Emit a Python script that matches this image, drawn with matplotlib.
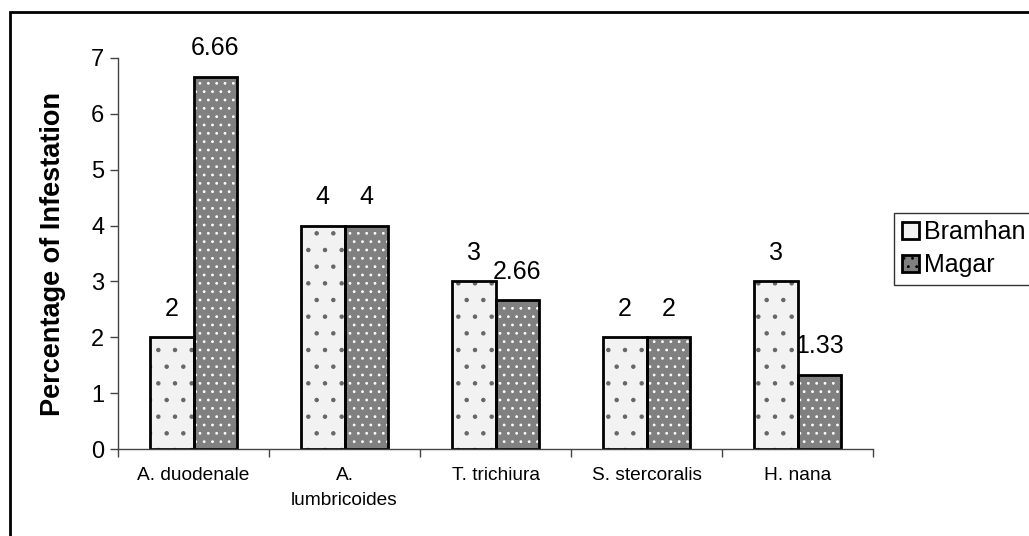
import numpy as np
import matplotlib.pyplot as plt
from matplotlib.patches import Rectangle, Patch

plt.rcParams['font.family'] = ['Liberation Sans', 'DejaVu Sans']
plt.rcParams['hatch.linewidth'] = 0.8

# data
parasites = ['A. duodenale', 'A.\nlumbricoides', 'T. trichiura', 'S. stercoralis', 'H. nana']
bramhan = [2, 4, 3, 2, 3]
magar = [6.66, 4, 2.66, 2, 1.33]
bramhan_labels = ['2', '4', '3', '2', '3']
magar_labels = ['6.66', '4', '2.66', '2', '1.33']


def main():
	fig = plt.figure(figsize=(10.29, 5.36), dpi=100)
	ax = fig.add_axes([0.1147, 0.1623, 0.7337, 0.7295])

	x = np.arange(len(parasites))
	w = 0.29

	# fill with hatch first, then black outline on top
	ax.bar(x - w / 2, bramhan, w, color='#f2f2f2', edgecolor='#666666', hatch='.', linewidth=0)
	ax.bar(x + w / 2, magar, w, color='#808080', edgecolor='white', hatch='..', linewidth=0)
	ax.bar(x - w / 2, bramhan, w, fill=False, edgecolor='black', linewidth=2)
	ax.bar(x + w / 2, magar, w, fill=False, edgecolor='black', linewidth=2)

	for xi, v, t in zip(x - w / 2, bramhan, bramhan_labels):
		ax.annotate(t, (xi, v), xytext=(0, 12), textcoords='offset points',
					ha='center', va='bottom', fontsize=18)
	for xi, v, t in zip(x + w / 2, magar, magar_labels):
		ax.annotate(t, (xi, v), xytext=(0, 12), textcoords='offset points',
					ha='center', va='bottom', fontsize=18)

	ax.set_xlim(-0.5, len(parasites) - 0.5)
	ax.set_ylim(0, 7)
	ax.set_yticks(range(0, 8))
	ax.tick_params(axis='y', labelsize=17, length=6, color='#444444', width=1, pad=4)

	# category ticks sit between the groups
	ax.set_xticks(np.arange(-0.5, len(parasites), 1.0))
	ax.set_xticklabels([])
	ax.set_xticks(x, minor=True)
	ax.set_xticklabels(parasites, minor=True, fontsize=13.8, linespacing=1.6)
	ax.tick_params(axis='x', which='major', length=6, color='#444444', width=1)
	ax.tick_params(axis='x', which='minor', length=0, pad=13)
	for lab in ax.get_xticklabels(minor=True):
		lab.set_va('top')

	for s in ['top', 'right']:
		ax.spines[s].set_visible(False)
	for s in ['left', 'bottom']:
		ax.spines[s].set_color('#444444')
		ax.spines[s].set_linewidth(1)

	ax.set_ylabel('Percentage of Infestation', fontsize=19.5, fontweight='bold', labelpad=18)

	handles = [
		Patch(facecolor='#f2f2f2', edgecolor='black', linewidth=2, label='Bramhan'),
		Patch(facecolor='#808080', edgecolor='black', linewidth=2, hatch='..', label='Magar'),
	]
	leg = fig.legend(handles=handles, loc='upper left', bbox_to_anchor=(0.869, 0.603),
					 fontsize=18, frameon=True, fancybox=False, handlelength=0.7,
					 handleheight=0.7, handletextpad=0.2, borderpad=0.3,
					 labelspacing=0.35, borderaxespad=0)
	leg.get_frame().set_edgecolor('black')
	leg.get_frame().set_linewidth(1)

	# outer chart frame, cut off at right and bottom
	fig.patches.append(Rectangle((10 / 1029, -0.1), 1.2, 1.1 - 12 / 536,
								 transform=fig.transFigure, fill=False,
								 edgecolor='black', linewidth=2))

	plt.savefig('out.png', dpi=100)


if __name__ == '__main__':
	main()
